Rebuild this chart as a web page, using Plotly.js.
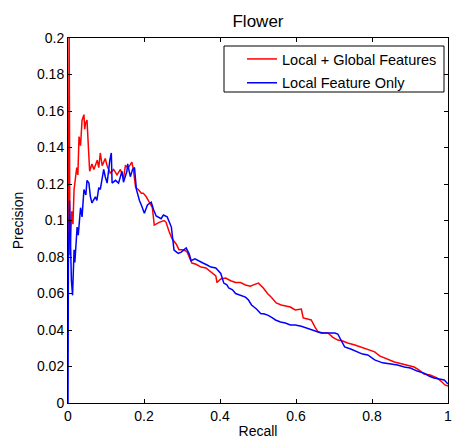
<!DOCTYPE html>
<html>
<head>
<meta charset="utf-8">
<script src="https://cdn.plot.ly/plotly-3.0.1.min.js"></script>
<style>html,body{margin:0;padding:0;background:#fff;}#chart{width:452px;height:443px;}</style>
</head>
<body>
<div id="chart"></div>
<script>
// Recall / precision for "Local + Global Features"
const redRecall = [0.001,0.003,0.005,0.008,0.010,0.013,0.016,0.023,0.026,0.029,0.033,0.037,0.042,0.044,0.046,0.050,0.052,0.055,0.057,0.063,0.068,0.077,0.081,0.085,0.090,0.098,0.103,0.111,0.120,0.129,0.138,0.146,0.151,0.159,0.168,0.172,0.178,0.185,0.193,0.198,0.206,0.214,0.222,0.227,0.240,0.253,0.258,0.266,0.274,0.285,0.292,0.303,0.313,0.319,0.326,0.337,0.350,0.363,0.379,0.389,0.392,0.402,0.415,0.428,0.441,0.454,0.467,0.480,0.488,0.501,0.514,0.525,0.535,0.548,0.561,0.574,0.585,0.598,0.614,0.619,0.629,0.640,0.650,0.658,0.671,0.684,0.697,0.710,0.723,0.736,0.755,0.770,0.789,0.807,0.820,0.833,0.846,0.859,0.880,0.898,0.911,0.924,0.937,0.953,0.971,0.984,0.992,1.0];
const redPrecision = [0.089,0.21,0.081,0.095,0.105,0.098,0.117,0.129,0.125,0.146,0.141,0.155,0.158,0.150,0.153,0.155,0.144,0.129,0.127,0.131,0.128,0.133,0.129,0.137,0.130,0.134,0.130,0.126,0.128,0.125,0.128,0.123,0.130,0.129,0.132,0.128,0.118,0.117,0.115,0.115,0.113,0.110,0.107,0.0975,0.099,0.100,0.099,0.094,0.090,0.087,0.084,0.084,0.083,0.080,0.0767,0.076,0.0745,0.074,0.071,0.0696,0.066,0.068,0.0685,0.067,0.066,0.066,0.0647,0.064,0.0647,0.0657,0.063,0.060,0.058,0.0548,0.0537,0.053,0.0526,0.051,0.0515,0.0466,0.046,0.0455,0.0416,0.039,0.0384,0.0384,0.036,0.0345,0.034,0.0329,0.0318,0.0307,0.029,0.028,0.0258,0.0247,0.0236,0.0225,0.0214,0.0203,0.0197,0.018,0.0159,0.0153,0.0137,0.0115,0.0099,0.0093];
// Recall / precision for "Local Feature Only"
const blueRecall = [0,0.0005,0.001,0.004,0.0065,0.009,0.012,0.014,0.016,0.018,0.024,0.027,0.033,0.037,0.042,0.047,0.050,0.055,0.059,0.063,0.072,0.076,0.081,0.085,0.094,0.098,0.103,0.110,0.114,0.116,0.125,0.133,0.142,0.146,0.155,0.157,0.164,0.170,0.175,0.180,0.185,0.188,0.193,0.201,0.209,0.219,0.225,0.232,0.245,0.251,0.261,0.272,0.279,0.290,0.298,0.311,0.319,0.324,0.334,0.345,0.355,0.366,0.376,0.389,0.402,0.410,0.418,0.423,0.433,0.441,0.454,0.467,0.475,0.483,0.496,0.507,0.517,0.527,0.538,0.546,0.559,0.572,0.585,0.598,0.614,0.627,0.640,0.653,0.666,0.684,0.702,0.710,0.718,0.728,0.744,0.762,0.775,0.789,0.807,0.828,0.846,0.867,0.885,0.901,0.919,0.937,0.950,0.963,0.977,0.990,1.0];
const bluePrecision = [0,0.0345,0.076,0.111,0.089,0.067,0.059,0.076,0.084,0.077,0.0964,0.092,0.107,0.102,0.117,0.114,0.122,0.1205,0.113,0.1096,0.113,0.111,0.118,0.117,0.128,0.124,0.1205,0.133,0.137,0.1205,0.122,0.1205,0.127,0.121,0.127,0.131,0.124,0.128,0.129,0.117,0.112,0.111,0.1085,0.104,0.1085,0.110,0.106,0.1025,0.101,0.103,0.102,0.0964,0.0838,0.082,0.0827,0.085,0.0816,0.078,0.079,0.078,0.0767,0.0756,0.0745,0.074,0.071,0.0657,0.0647,0.063,0.062,0.060,0.059,0.058,0.0564,0.0537,0.0515,0.049,0.0488,0.048,0.0466,0.0455,0.0444,0.0438,0.0427,0.0427,0.042,0.041,0.040,0.039,0.0384,0.0384,0.0384,0.0378,0.0345,0.0307,0.0296,0.028,0.0268,0.0263,0.0236,0.022,0.0214,0.0208,0.0197,0.0192,0.0175,0.0164,0.0148,0.0137,0.0132,0.0126,0.0104];
const seriesNames = ['Local + Global Features', 'Local Feature Only'];
const xTicks = [0, 0.2, 0.4, 0.6, 0.8, 1];
const yTicks = [0, 0.02, 0.04, 0.06, 0.08, 0.1, 0.12, 0.14, 0.16, 0.18, 0.2];

const W = 452, H = 443, L = 68, R = 4, T = 38, B = 40;
const pw = W - L - R, ph = H - T - B;
const font = 'Liberation Sans, Arial, Helvetica, sans-serif';
const traces = [
  {x: redRecall, y: redPrecision, name: seriesNames[0], legendgroup: 'a', type: 'scatter', mode: 'lines', line: {color: '#ff0000', width: 1.5}},
  {x: blueRecall, y: bluePrecision, name: seriesNames[1], legendgroup: 'b', type: 'scatter', mode: 'lines', line: {color: '#0000ff', width: 1.5}}
];
const axisCommon = {
  showgrid: false, zeroline: false, showline: true, linecolor: '#000', linewidth: 1,
  mirror: 'ticks', ticks: 'inside', ticklen: 4, tickcolor: '#000', tickwidth: 1,
  tickfont: {family: font, size: 14, color: '#000'}, automargin: false, ticklabeloverflow: 'allow'
};
const layout = {
  width: W, height: H,
  margin: {l: L, r: R, t: T, b: B},
  paper_bgcolor: '#fff', plot_bgcolor: '#fff',
  font: {family: font, color: '#000'},
  title: {text: 'Flower', x: 0.5, xref: 'paper', xanchor: 'center', y: 0.9526, yanchor: 'middle', font: {family: font, size: 17, color: '#000'}},
  xaxis: Object.assign({}, axisCommon, {range: [0, 1], tickvals: xTicks, ticktext: xTicks.map(String),
    title: {text: 'Recall', font: {family: font, size: 14, color: '#000'}, standoff: 3}}),
  yaxis: Object.assign({}, axisCommon, {range: [0, 0.2], tickvals: yTicks, ticktext: yTicks.map(String),
    title: {text: 'Precision', font: {family: font, size: 14, color: '#000'}, standoff: 10}}),
  showlegend: true,
  legend: {x: (242 - L) / pw, y: (H - B - 43) / ph, xanchor: 'left', yanchor: 'top', bgcolor: 'rgba(0,0,0,0)', borderwidth: 0,
    font: {family: font, size: 14.5, color: '#000'}, traceorder: 'grouped', tracegroupgap: 2},
  shapes: [{type: 'rect', xref: 'paper', yref: 'paper', x0: (224 - L) / pw, x1: (444 - L) / pw, y0: (H - B - 92) / ph, y1: (H - B - 46) / ph,
    line: {color: '#000', width: 1}, fillcolor: '#fff', layer: 'below'}]
};
Plotly.newPlot('chart', traces, layout, {displayModeBar: false, staticPlot: true});
</script>
</body>
</html>
